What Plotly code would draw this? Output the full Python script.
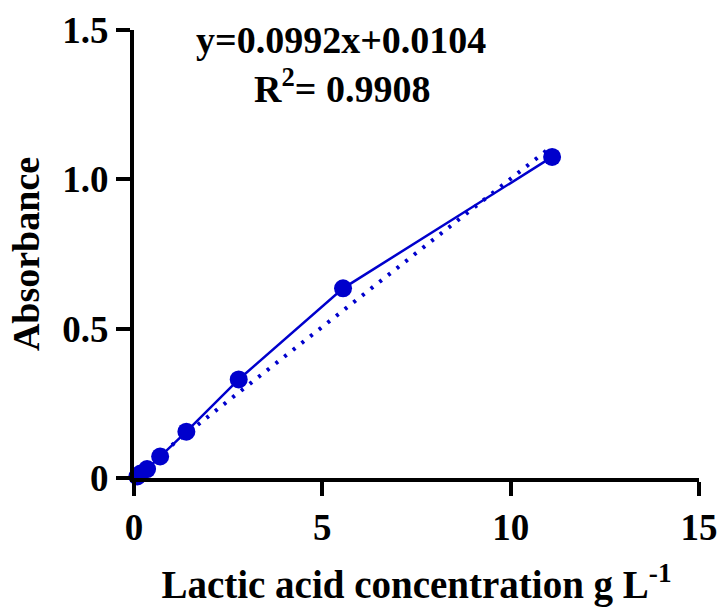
import plotly.graph_objects as go

# Data
conc = [0.087, 0.174, 0.347, 0.694, 1.39, 2.78, 5.55, 11.1]
absorb = [0.005, 0.015, 0.03, 0.072, 0.155, 0.33, 0.635, 1.075]

# Linear fit endpoints (y = 0.0992x + 0.0104)
fit_x = [0.087, 11.1]
fit_y = [0.019, 1.111]

x_ticks = [0, 5, 10, 15]
x_tick_labels = ["0", "5", "10", "15"]
y_ticks = [0, 0.5, 1.0, 1.5]
y_tick_labels = ["0", "0.5", "1.0", "1.5"]

BLUE = "#0000CC"
FONT = "Liberation Serif"

fig = go.Figure()
fig.add_trace(go.Scatter(
    x=fit_x, y=fit_y, mode="lines",
    line=dict(color=BLUE, width=4, dash="3px,8px"),
    hoverinfo="skip", cliponaxis=False, showlegend=False))
fig.add_trace(go.Scatter(
    x=conc, y=absorb, mode="lines+markers",
    line=dict(color=BLUE, width=2.5),
    marker=dict(color=BLUE, size=18),
    cliponaxis=False, showlegend=False))

axis_common = dict(
    showline=True, linecolor="black", linewidth=4,
    ticks="outside", ticklen=14, tickwidth=3.5, tickcolor="black",
    showgrid=False, zeroline=False, automargin=False,
    ticklabeloverflow="allow",
    tickfont=dict(family=FONT, size=37, color="black"),
)

fig.update_xaxes(
    range=[0, 15], tickvals=x_ticks,
    ticktext=["<b>%s</b>" % t for t in x_tick_labels],
    title=dict(text="<b>Lactic acid concentration g L<sup>-1</sup></b>",
               font=dict(family=FONT, size=39, color="black"), standoff=30),
    **axis_common)
fig.update_yaxes(
    range=[0, 1.5], tickvals=y_ticks,
    ticktext=["<b>%s</b>" % t for t in y_tick_labels],
    title=dict(text="<b>Absorbance</b>",
               font=dict(family=FONT, size=38, color="black"), standoff=12),
    **axis_common)

fig.add_annotation(x=5.49, y=1.468, xref="x", yref="y",
                   text="<b>y=0.0992x+0.0104</b>", showarrow=False,
                   font=dict(family=FONT, size=38, color="black"))
fig.add_annotation(x=5.52, y=1.313, xref="x", yref="y",
                   text="<b>R<sup>2</sup>= 0.9908</b>", showarrow=False,
                   font=dict(family=FONT, size=38, color="black"))

fig.update_layout(
    width=718, height=607,
    margin=dict(l=134, r=19, t=30, b=129),
    plot_bgcolor="white", paper_bgcolor="white",
    font=dict(family=FONT, color="black"),
)

fig.write_html("out.html")
